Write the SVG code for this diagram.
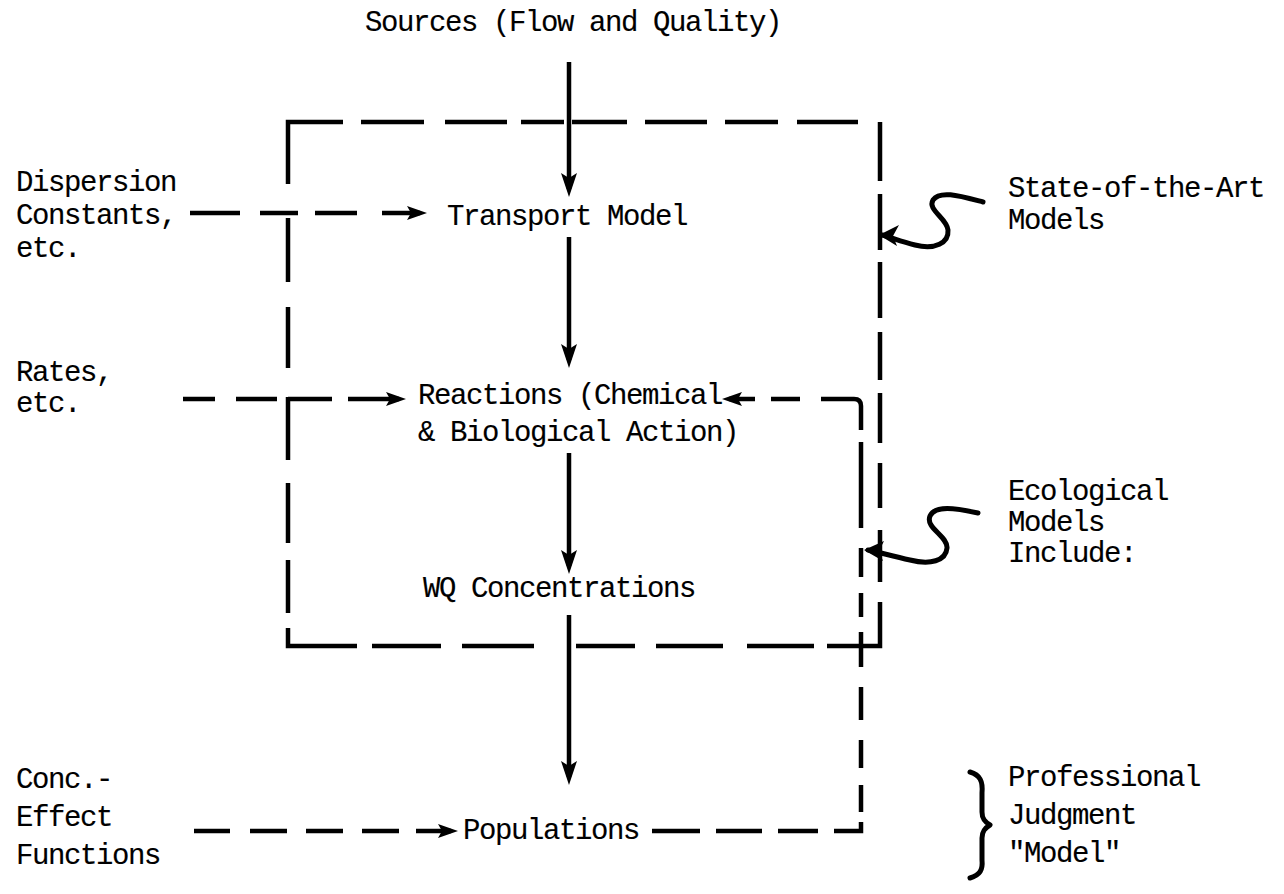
<svg xmlns="http://www.w3.org/2000/svg" width="1284" height="894" viewBox="0 0 1284 894">
<style>
.t{font-family:"Liberation Mono","Courier New",monospace;font-size:29px;letter-spacing:-1.4px;fill:#000;stroke:#000;stroke-width:0.15}
.ln{fill:none;stroke:#000;stroke-width:4.5;stroke-linecap:butt;stroke-linejoin:miter}
.sq{fill:none;stroke:#000;stroke-width:5;stroke-linecap:round;stroke-linejoin:round}
</style>
<defs>
<marker id="ah" viewBox="0 0 24 16" refX="16" refY="8" markerWidth="24" markerHeight="16" markerUnits="userSpaceOnUse" orient="auto"><path d="M0,0 L24,8 L0,16 L5,8 z" fill="#000"/></marker>
<marker id="dh" viewBox="0 0 20 14" refX="13" refY="7" markerWidth="20" markerHeight="14" markerUnits="userSpaceOnUse" orient="auto"><path d="M0,0 L20,7 L0,14 L4,7 z" fill="#000"/></marker>
</defs>
<rect width="1284" height="894" fill="#fff"/>

<g id="model-boundary" class="ln">
<path d="M288,184 V122 H343 M361,122 H424 M445,122 H507 M521,122 H564 M572,122 H627 M645,122 H707 M725,122 H778 M797,122 H858"/>
<path d="M288,218 V282 M288,307 V368 M288,397 V460 M288,483 V543 M288,560 V613 M288,628 V646 H357 M372,646 H441 M462,646 H534 M576,646 H635 M656,646 H723 M747,646 H814 M827,646 H880 V602"/>
<path d="M880,122 V181 M880,194 V250 M880,262 V318 M880,332 V380 M880,393 V443 M880,463 V508 M880,530 V582"/>
</g>

<g id="connectors" class="ln">
<path id="c-sources" d="M569,62 V189" marker-end="url(#ah)"/>
<path id="c-transport" d="M569,237 V360" marker-end="url(#ah)"/>
<path id="c-reactions" d="M569,453 V566" marker-end="url(#ah)"/>
<path id="c-wq" d="M569,615 V777" marker-end="url(#ah)"/>
<path id="c-dispersion" d="M190,213 H240 M260,213 H298 M315,213 H357 M382,213 H420" marker-end="url(#dh)"/>
<path id="c-rates" d="M183,399 H215 M236,399 H277 M288,399 H332 M348,399 H399" marker-end="url(#dh)"/>
<path id="c-conc" d="M194,831 H230 M250,831 H287 M306,831 H343 M362,831 H399 M416,831 H451" marker-end="url(#dh)"/>
<path id="c-feedback" d="M652,831 H700 M716,831 H762 M778,831 H818 M834,831 H861 V822 M861,812 V785 M861,768 V740 M861,720 V687 M861,667 V632 M861,617 V593 M861,577 V548 M861,528 V442 M861,430 V406 Q861,399 854,399 H821 M800,399 H771 M755,399 H729" marker-end="url(#dh)"/>
</g>

<g id="n-sources"><text class="t" x="365" y="31">Sources (Flow and Quality)</text></g>
<g id="n-dispersion"><text class="t" x="16" y="191">Dispersion</text><text class="t" x="16" y="224">Constants,</text><text class="t" x="16" y="257">etc.</text></g>
<g id="n-transport"><text class="t" x="447" y="225">Transport Model</text></g>
<g id="n-state"><text class="t" x="1008" y="197">State-of-the-Art</text><text class="t" x="1008" y="229">Models</text>
<path class="sq" d="M983,202 C960,196 940,190 933,200 C927,210 947,218 948,230 C949,243 935,250 915,245 C900,241 890,237 882,235"/>
<path d="M879,235 L899,225 L893,236 L897,246 z" fill="#000"/>
</g>
<g id="n-rates"><text class="t" x="16" y="381">Rates,</text><text class="t" x="16" y="412">etc.</text></g>
<g id="n-reactions"><text class="t" x="418" y="404">Reactions (Chemical</text><text class="t" x="418" y="441">&amp; Biological Action)</text></g>
<g id="n-ecological"><text class="t" x="1008" y="500">Ecological</text><text class="t" x="1008" y="531">Models</text><text class="t" x="1008" y="562">Include:</text>
<path class="sq" d="M978,513 C955,508 935,505 930,516 C925,528 948,536 947,548 C946,561 930,565 910,560 C892,556 878,552 868,550"/>
<path d="M864,550 L884,541 L879,551 L883,561 z" fill="#000"/>
</g>
<g id="n-wq"><text class="t" x="423" y="597">WQ Concentrations</text></g>
<g id="n-populations"><text class="t" x="463" y="839">Populations</text></g>
<g id="n-conc"><text class="t" x="16" y="788">Conc.-</text><text class="t" x="16" y="826">Effect</text><text class="t" x="16" y="864">Functions</text></g>
<g id="n-judgment"><text class="t" x="1008" y="786">Professional</text><text class="t" x="1008" y="824">Judgment</text><text class="t" x="1008" y="862">"Model"</text>
<path class="sq" d="M970,772 C980,775 983,781 982,793 L982,812 C982,819 985,822 990,825 C985,828 982,831 982,838 L982,860 C983,870 980,875 970,878"/>
</g>
</svg>
